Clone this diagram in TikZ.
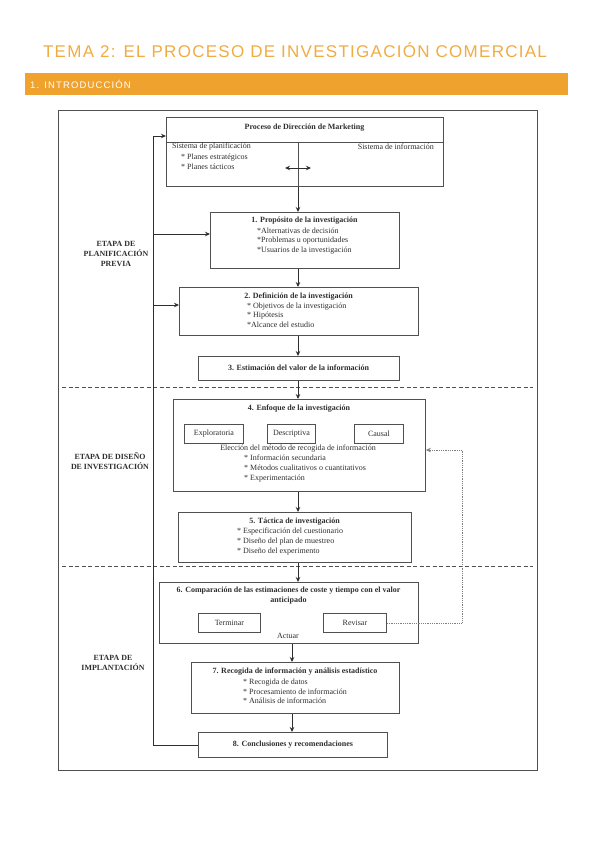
\documentclass[tikz,border=0pt]{standalone}
\usepackage{fontspec}
\setmainfont{Liberation Serif}
\newfontfamily\temafont[LetterSpace=7.5]{Liberation Sans}
\newfontfamily\barrafont[LetterSpace=12]{Liberation Sans}
\usetikzlibrary{positioning, arrows.meta}
\definecolor{naranja}{HTML}{F0A22E}
\definecolor{tinta}{HTML}{2E2E2E}
\definecolor{marco}{HTML}{505050}

\begin{document}
\begin{tikzpicture}[x=1pt, y=-1pt, >={Stealth[length=5pt, width=4.5pt]},
    caja/.style={draw=marco, line width=0.9pt, rectangle, inner sep=0pt, anchor=north west},
    titulo/.style={font=\fontsize{8}{10}\selectfont\bfseries, text=tinta, inner sep=0pt, align=center},
    lista/.style={font=\fontsize{8}{9.7}\selectfont, text=tinta, inner sep=0pt, anchor=west, align=left},
    texto/.style={font=\fontsize{8}{9.7}\selectfont, text=tinta, inner sep=0pt},
    etapa/.style={font=\fontsize{7.9}{10}\selectfont\bfseries, text=tinta, inner sep=0pt, align=center},
    flecha/.style={->, draw=tinta, line width=0.9pt},
    fase/.style={draw=marco, line width=1pt, dash pattern=on 4pt off 2.5pt}
]
    \useasboundingbox (0,0) rectangle (596,848);

    % Cabecera
    \node[text=naranja!90!white, font=\temafont\fontsize{17}{20}\selectfont, inner sep=0pt] (tema) at (295,50)
        {TEMA 2: EL PROCESO DE INVESTIGACIÓN COMERCIAL};
    \node[fill=naranja, minimum width=543pt, minimum height=22pt, inner sep=0pt, anchor=north west] (barra) at (25,73) {};
    \node[text=white, font=\barrafont\fontsize{9.5}{11}\selectfont, inner sep=0pt, anchor=west] (intro) at (30,84)
        {1. INTRODUCCIÓN};

    % Marco y separadores de etapas
    \draw[marco, line width=0.9pt] (58,110) rectangle (537,770);
    \draw[fase] (62,387) -- (533,387);
    \draw[fase] (62,566) -- (533,566);

    % Ejes de las flechas centrales
    \coordinate (eje) at (298,0);
    \coordinate (ejeB) at (292,0);

    % Proceso de Direccion de Marketing
    \node[caja, minimum width=277pt, minimum height=69pt] (proceso) at (166,117) {};
    \draw[marco, line width=0.9pt] (166,142) -- (443,142);
    \draw[marco, line width=0.9pt] (298,142) -- (298,186);
    \node[titulo] (procesoT) at (304.5,128) {Proceso de Dirección de Marketing};
    \node[lista] (planif) at (172,146.5) {Sistema de planificación};
    \node[lista] (planes) at (181,161.5) {* Planes estratégicos\\* Planes tácticos};
    \node[texto, anchor=east] (inform) at (434,146.5) {Sistema de información};
    \coordinate (flujoI) at (285,168);
    \coordinate (flujoD) at (311,168);
    \draw[<->, draw=tinta, line width=0.9pt] (flujoI) -- (flujoD);

    % Etapa de planificacion previa
    \node[caja, minimum width=189pt, minimum height=56pt] (proposito) at (210,212) {};
    \node[titulo] (propositoT) at (304.5,221) {1. Propósito de la investigación};
    \node[lista] (propositoL) at (257,241)
        {*Alternativas de decisión\\*Problemas u oportunidades\\*Usuarios de la investigación};

    \node[caja, minimum width=239pt, minimum height=48pt] (definicion) at (179,287) {};
    \node[titulo] (definicionT) at (298.5,297) {2. Definición de la investigación};
    \node[lista] (definicionL) at (247,315)
        {* Objetivos de la investigación\\* Hipótesis\\*Alcance del estudio};

    \node[caja, minimum width=201pt, minimum height=24pt] (estimacion) at (198,356) {};
    \node[titulo] (estimacionT) at (298.5,368) {3. Estimación del valor de la información};

    % Etapa de diseno de investigacion
    \node[caja, minimum width=252pt, minimum height=92pt] (enfoque) at (173,399) {};
    \node[titulo] (enfoqueT) at (299,409) {4. Enfoque de la investigación};
    \node[caja, minimum width=59pt, minimum height=19pt] (explor) at (184,424) {};
    \node[texto] at (explor.center) {Exploratoria};
    \node[caja, minimum width=48pt, minimum height=19pt] (descr) at (267,424) {};
    \node[texto] at (descr.center) {Descriptiva};
    \node[caja, minimum width=49pt, minimum height=19pt] (causal) at (354,424) {};
    \node[texto] at (causal.center) {Causal};
    \node[texto] (eleccion) at (298,449) {Elección del método de recogida de información};
    \node[lista] (enfoqueL) at (244,468.5)
        {* Información secundaria\\* Métodos cualitativos o cuantitativos\\* Experimentación};

    \node[caja, minimum width=233pt, minimum height=50pt] (tactica) at (178,512) {};
    \node[titulo] (tacticaT) at (294.5,522) {5. Táctica de investigación};
    \node[lista] (tacticaL) at (237,541.5)
        {* Especificación del cuestionario\\* Diseño del plan de muestreo\\* Diseño del experimento};

    % Etapa de implantacion
    \node[caja, minimum width=259pt, minimum height=61pt] (comparacion) at (159,582) {};
    \node[titulo] (comparacionT) at (288.5,596)
        {6. Comparación de las estimaciones de coste y tiempo con el valor\\anticipado};
    \node[caja, minimum width=62pt, minimum height=19pt] (terminar) at (198,613) {};
    \node[texto] at (terminar.center) {Terminar};
    \node[caja, minimum width=63pt, minimum height=19pt] (revisar) at (323,613) {};
    \node[texto] at (revisar.center) {Revisar};
    \node[texto] (actuar) at (288,636) {Actuar};

    \node[caja, minimum width=208pt, minimum height=51pt] (recogida) at (191,662) {};
    \node[titulo] (recogidaT) at (295,672) {7. Recogida de información y análisis estadístico};
    \node[lista] (recogidaL) at (243,691.5)
        {* Recogida de datos\\* Procesamiento de información\\* Análisis de información};

    \node[caja, minimum width=189pt, minimum height=25pt] (conclusiones) at (198,732) {};
    \node[titulo] (conclusionesT) at (conclusiones.center) {8. Conclusiones y recomendaciones};

    % Etiquetas de etapas
    \node[etapa] (etapaA) at (116,254) {ETAPA DE\\PLANIFICACIÓN\\PREVIA};
    \node[etapa] (etapaB) at (110,461) {ETAPA DE DISEÑO\\DE INVESTIGACIÓN};
    \node[etapa] (etapaC) at (113,663) {ETAPA DE\\IMPLANTACIÓN};

    % Flujo principal
    \draw[flecha] (proceso.south -| eje) -- (proposito.north -| eje);
    \draw[flecha] (proposito.south -| eje) -- (definicion.north -| eje);
    \draw[flecha] (definicion.south -| eje) -- (estimacion.north -| eje);
    \draw[flecha] (estimacion.south -| eje) -- (enfoque.north -| eje);
    \draw[flecha] (enfoque.south -| eje) -- (tactica.north -| eje);
    \draw[flecha] (tactica.south -| eje) -- (comparacion.north -| eje);
    \draw[flecha] (comparacion.south -| ejeB) -- (recogida.north -| ejeB);
    \draw[flecha] (recogida.south -| ejeB) -- (conclusiones.north -| ejeB);

    % Retroalimentacion izquierda
    \coordinate (izqA) at (153,136);
    \coordinate (izqB) at (153,234);
    \coordinate (izqC) at (153,305);
    \draw[flecha] (conclusiones.west) -| (izqA) -- (izqA -| proceso.west);
    \draw[flecha] (izqB) -- (izqB -| proposito.west);
    \draw[flecha] (izqC) -- (izqC -| definicion.west);

    % Revisar
    \coordinate (vuelta) at (462,450);
    \draw[->, draw=gray, densely dotted, line width=0.8pt] (revisar.east) -- (revisar.east -| vuelta) -- (vuelta) -- (vuelta -| enfoque.east);
\end{tikzpicture}
\end{document}
